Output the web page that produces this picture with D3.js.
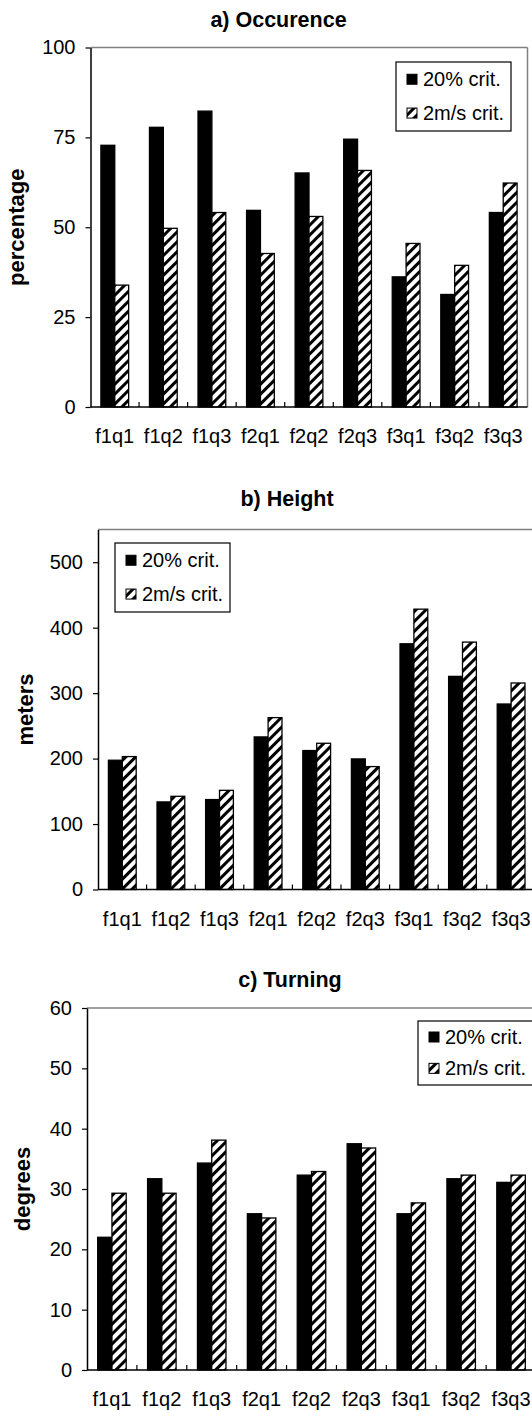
<!DOCTYPE html>
<html>
<head>
<meta charset="utf-8">
<script src="https://cdn.jsdelivr.net/npm/d3@7"></script>
<style>
  html, body { margin: 0; padding: 0; background: #fff; }
  svg { display: block; font-family: "Liberation Sans", Arial, sans-serif; }
</style>
</head>
<body>
<svg id="chart" width="532" height="1411"></svg>
<script>
// categories and series
var categories = ["f1q1", "f1q2", "f1q3", "f2q1", "f2q2", "f2q3", "f3q1", "f3q2", "f3q3"]
var seriesNames = ["20% crit.", "2m/s crit."]

// a) occurence, percentage
var occ20 = [72.8, 77.8, 82.3, 54.7, 65.1, 74.5, 36.2, 31.3, 54.1]
var occ2ms = [33.9, 49.7, 54.1, 42.7, 53.0, 65.8, 45.5, 39.4, 62.3]
var occTicks = [0, 25, 50, 75, 100]

// b) height, meters
var hgt20 = [197.5, 133.8, 137.4, 233.1, 212.3, 199.5, 375.4, 325.6, 283.4]
var hgt2ms = [203.1, 142.4, 151.5, 262.6, 223.4, 187.8, 428.3, 378.0, 315.5]
var hgtTicks = [0, 100, 200, 300, 400, 500]

// c) turning, degrees
var turn20 = [22.0, 31.7, 34.3, 25.9, 32.3, 37.5, 25.9, 31.7, 31.1]
var turn2ms = [29.3, 29.3, 38.1, 25.2, 32.9, 36.8, 27.7, 32.3, 32.3]
var turnTicks = [0, 10, 20, 30, 40, 50, 60]

var svg = d3.select("#chart")

var defs = svg.append("defs")
var hatch = defs.append("pattern")
    .attr("id", "hatch")
    .attr("patternUnits", "userSpaceOnUse")
    .attr("width", 7).attr("height", 7)
    .attr("patternTransform", "rotate(45)")
hatch.append("rect").attr("width", 7).attr("height", 7).attr("fill", "#fff")
hatch.append("rect").attr("width", 3).attr("height", 7).attr("fill", "#000")

var fills = ["#000", "url(#hatch)"]

var panels = [
    {
        title: "a) Occurence", ylabel: "percentage",
        s1: occ20, s2: occ2ms, ticks: occTicks, max: 100,
        left: 90.5, right: 527.5, top: 47.5, bottom: 407,
        titleX: 278.5, titleY: 27, ylabX: 24, rightBorder: true,
        legend: {x: 396, y: 62, w: 115, h: 69}
    },
    {
        title: "b) Height", ylabel: "meters",
        s1: hgt20, s2: hgt2ms, ticks: hgtTicks, max: 550,
        left: 98, right: 535.4, top: 529.5, bottom: 889.5,
        titleX: 287, titleY: 506, ylabX: 33, rightBorder: false,
        legend: {x: 115, y: 543, w: 115, h: 69}
    },
    {
        title: "c) Turning", ylabel: "degrees",
        s1: turn20, s2: turn2ms, ticks: turnTicks, max: 60,
        left: 87, right: 536, top: 1008, bottom: 1370,
        titleX: 290, titleY: 987, ylabX: 30, rightBorder: false,
        legend: {x: 418, y: 1021, w: 115, h: 64}
    }
]

var draw_panel = (p) => {
    var g = svg.append("g")

    var x0 = d3.scaleBand()
        .domain(categories)
        .range([p.left, p.right])
        .paddingInner(1.5 / 3.5)
        .paddingOuter(0.75 / 3.5)
    var x1 = d3.scaleBand()
        .domain([0, 1])
        .range([0, x0.bandwidth()])
    var y = d3.scaleLinear()
        .domain([0, p.max])
        .range([p.bottom, p.top])

    // title
    g.append("text")
        .attr("x", p.titleX).attr("y", p.titleY)
        .attr("text-anchor", "middle")
        .attr("font-weight", "bold")
        .attr("font-size", 21.5)
        .text(p.title)

    // gray frame (top / right)
    g.append("line")
        .attr("x1", p.left).attr("x2", p.rightBorder ? p.right : 540)
        .attr("y1", p.top).attr("y2", p.top)
        .attr("stroke", "#808080").attr("stroke-width", 1.5)
    if (p.rightBorder) {
        g.append("line")
            .attr("x1", p.right).attr("x2", p.right)
            .attr("y1", p.top).attr("y2", p.bottom)
            .attr("stroke", "#808080").attr("stroke-width", 1.5)
    }

    // bars
    var rows = categories.map((c, i) => ({cat: c, vals: [p.s1[i], p.s2[i]]}))
    var groups = g.selectAll(".grp")
        .data(rows).enter()
        .append("g")
        .attr("class", "grp")
        .attr("transform", d => `translate(${x0(d.cat)},0)`)
    groups.selectAll("rect")
        .data(d => d.vals.map((v, k) => ({k: k, v: v})))
        .enter().append("rect")
        .attr("x", d => x1(d.k))
        .attr("width", x1.bandwidth())
        .attr("y", d => y(d.v))
        .attr("height", d => y(0) - y(d.v))
        .attr("fill", d => fills[d.k])
        .attr("stroke", "#000")
        .attr("stroke-width", 1.3)

    // y axis
    var yAxis = g.append("g")
        .attr("transform", `translate(${p.left},0)`)
        .call(d3.axisLeft(y).tickValues(p.ticks).tickSize(5).tickPadding(10).tickSizeOuter(0))
    yAxis.select(".domain").attr("stroke", "#000").attr("stroke-width", 1.5)
    yAxis.selectAll(".tick line").attr("stroke-width", 1.2)
    yAxis.selectAll("text")
        .attr("font-size", 20)
        .attr("font-family", "Liberation Sans, Arial, sans-serif")
        .attr("fill", "#000")

    // x axis: labels under categories, ticks at category boundaries
    var xAxis = g.append("g")
        .attr("transform", `translate(0,${p.bottom})`)
        .call(d3.axisBottom(x0).tickSize(0).tickPadding(22))
    xAxis.select(".domain").remove()
    xAxis.selectAll("text")
        .attr("font-size", 20)
        .attr("font-family", "Liberation Sans, Arial, sans-serif")
        .attr("fill", "#000")
    g.append("line")
        .attr("x1", p.left).attr("x2", p.rightBorder ? p.right : 540)
        .attr("y1", p.bottom).attr("y2", p.bottom)
        .attr("stroke", "#000").attr("stroke-width", 1.5)
    var outer = x0.step() * x0.paddingOuter()
    g.selectAll(".xtick")
        .data(categories.slice(1)).enter()
        .append("line")
        .attr("class", "xtick")
        .attr("x1", d => x0(d) - outer).attr("x2", d => x0(d) - outer)
        .attr("y1", p.bottom).attr("y2", p.bottom - 5)
        .attr("stroke", "#000").attr("stroke-width", 1.2)

    // y label
    g.append("text")
        .attr("transform", `translate(${p.ylabX},${(p.top + p.bottom) / 2}) rotate(-90)`)
        .attr("text-anchor", "middle")
        .attr("font-weight", "bold")
        .attr("font-size", 22)
        .text(p.ylabel)

    // legend
    var L = p.legend
    var lg = g.append("g").attr("transform", `translate(${L.x},${L.y})`)
    lg.append("rect")
        .attr("width", L.w).attr("height", L.h)
        .attr("fill", "#fff").attr("stroke", "#000").attr("stroke-width", 1.2)
    var items = lg.selectAll(".item")
        .data(seriesNames).enter()
        .append("g")
        .attr("class", "item")
        .attr("transform", (d, i) => `translate(11,${L.h * (i === 0 ? 0.25 : 0.74)})`)
    items.append("rect")
        .attr("x", 0).attr("y", -5)
        .attr("width", 10).attr("height", 10)
        .attr("fill", (d, i) => fills[i])
        .attr("stroke", "#000").attr("stroke-width", 1)
    items.append("text")
        .attr("x", 16).attr("y", 7)
        .attr("font-size", 20)
        .text(d => d)
}

panels.forEach(draw_panel)
</script>
</body>
</html>
